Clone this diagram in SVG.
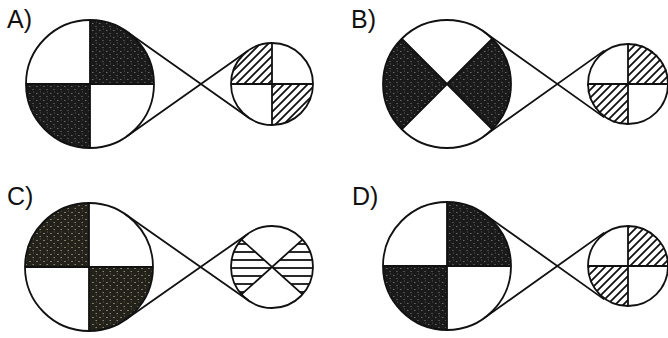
<svg xmlns="http://www.w3.org/2000/svg" width="668" height="338" viewBox="0 0 668 338">
<style>
.lbl{font-family:"Liberation Sans",Arial,sans-serif;font-size:25px;fill:#111}
.ol{fill:none;stroke:#111;stroke-width:1.8}
.div{stroke:#111;stroke-width:1.8;fill:none}
.dk{fill:url(#speck);stroke:none}
.dkc{fill:url(#speckOlive);stroke:none}
.hd{fill:url(#diag);stroke:none}
.hh{fill:url(#horiz);stroke:none}
.con{stroke:#111;stroke-width:1.8;fill:none}
</style>
<defs>
<pattern id="speck" patternUnits="userSpaceOnUse" width="7" height="7">
<rect width="7" height="7" fill="#1a1a1a"/>
<rect x="1" y="2" width="1.5" height="1" fill="#6a6a6a"/>
<rect x="4.5" y="5" width="1" height="1" fill="#808080"/>
<rect x="5" y="0.5" width="1" height="1" fill="#555"/>
</pattern>
<pattern id="speckOlive" patternUnits="userSpaceOnUse" width="7" height="7">
<rect width="7" height="7" fill="#23221a"/>
<rect x="1" y="2" width="2" height="1" fill="#7d7a66"/>
<rect x="4.5" y="5" width="1.5" height="1" fill="#8a8772"/>
<rect x="5" y="0.5" width="1" height="1" fill="#5e5c4c"/>
</pattern>
<pattern id="diag" patternUnits="userSpaceOnUse" width="8" height="8">
<path d="M0,8 L8,0 M-2,2 L2,-2 M6,10 L10,6" stroke="#111" stroke-width="1.8" fill="none"/>
</pattern>
<pattern id="horiz" patternUnits="userSpaceOnUse" width="6" height="8">
<path d="M0,4 L6,4" stroke="#111" stroke-width="1.8" fill="none"/>
</pattern>
</defs>
<rect width="668" height="338" fill="#fff"/>

<!-- Panel A -->
<g id="panelA">
<text class="lbl" x="7" y="28">A)</text>
<g id="A-big">
<path class="dk" d="M90,84 L90,20 A64,64 0 0 1 154,84 Z"/>
<path class="dk" d="M90,84 L26,84 A64,64 0 0 0 90,148 Z"/>
<circle class="ol" cx="90" cy="84" r="64"/>
<path class="div" d="M90,20 L90,148 M26,84 L154,84"/>
</g>
<g id="A-small">
<path class="hd" d="M272,84 L231,84 A41,41 0 0 1 272,43 Z"/>
<path class="hd" d="M272,84 L313,84 A41,41 0 0 1 272,125 Z"/>
<circle class="ol" cx="272" cy="84" r="41"/>
<path class="div" d="M272,43 L272,125 M231,84 L313,84"/>
</g>
<g id="A-connectors">
<path class="con" d="M126.93,31.72 L248.35,117.49 M126.93,136.28 L248.35,50.51"/>
</g>
</g>

<!-- Panel B -->
<g id="panelB">
<text class="lbl" x="351" y="28">B)</text>
<g id="B-big">
<path class="dk" d="M447,84 L401.75,38.75 A64,64 0 0 0 401.75,129.25 Z"/>
<path class="dk" d="M447,84 L492.25,38.75 A64,64 0 0 1 492.25,129.25 Z"/>
<circle class="ol" cx="447" cy="84" r="64"/>
<path class="div" d="M401.75,38.75 L492.25,129.25 M492.25,38.75 L401.75,129.25"/>
</g>
<g id="B-small">
<path class="hd" d="M628,84 L628,43 A41,41 0 0 1 669,84 Z"/>
<path class="hd" d="M628,84 L587,84 A41,41 0 0 0 628,125 Z"/>
<circle class="ol" cx="628" cy="84" r="40"/>
<path class="div" d="M628,44 L628,124 M588,84 L668,84"/>
</g>
<g id="B-connectors">
<path class="con" d="M484.13,31.87 L604.22,117.39 M484.13,136.13 L604.22,50.61"/>
</g>
</g>

<!-- Panel C -->
<g id="panelC">
<text class="lbl" x="7" y="205">C)</text>
<g id="C-big">
<path class="dkc" d="M89,267 L25,267 A64,64 0 0 1 89,203 Z"/>
<path class="dkc" d="M89,267 L153,267 A64,64 0 0 1 89,331 Z"/>
<circle class="ol" cx="89" cy="267" r="64"/>
<path class="div" d="M89,203 L89,331 M25,267 L153,267"/>
</g>
<g id="C-small">
<path class="hh" d="M272,267 L241.5,239.6 A41,41 0 0 0 241.5,294.4 Z"/>
<path class="hh" d="M272,267 L302.5,239.6 A41,41 0 0 1 302.5,294.4 Z"/>
<circle class="ol" cx="272" cy="267" r="41"/>
<path class="div" d="M241.5,239.6 L302.5,294.4 M302.5,239.6 L241.5,294.4"/>
</g>
<g id="C-connectors">
<path class="con" d="M125.72,214.58 L248.48,300.58 M125.72,319.42 L248.48,233.42"/>
</g>
</g>

<!-- Panel D -->
<g id="panelD">
<text class="lbl" x="352" y="205">D)</text>
<g id="D-big">
<path class="dk" d="M447,266 L447,202 A64,64 0 0 1 511,266 Z"/>
<path class="dk" d="M447,266 L383,266 A64,64 0 0 0 447,330 Z"/>
<circle class="ol" cx="447" cy="266" r="64"/>
<path class="div" d="M447,202 L447,330 M383,266 L511,266"/>
</g>
<g id="D-small">
<path class="hd" d="M628,266 L628,226 A40,40 0 0 1 668,266 Z"/>
<path class="hd" d="M628,266 L588,266 A40,40 0 0 0 628,306 Z"/>
<circle class="ol" cx="628" cy="266" r="40"/>
<path class="div" d="M628,226 L628,306 M588,266 L668,266"/>
</g>
<g id="D-connectors">
<path class="con" d="M484.13,213.87 L604.22,299.39 M484.13,318.13 L604.22,232.61"/>
</g>
</g>
</svg>
